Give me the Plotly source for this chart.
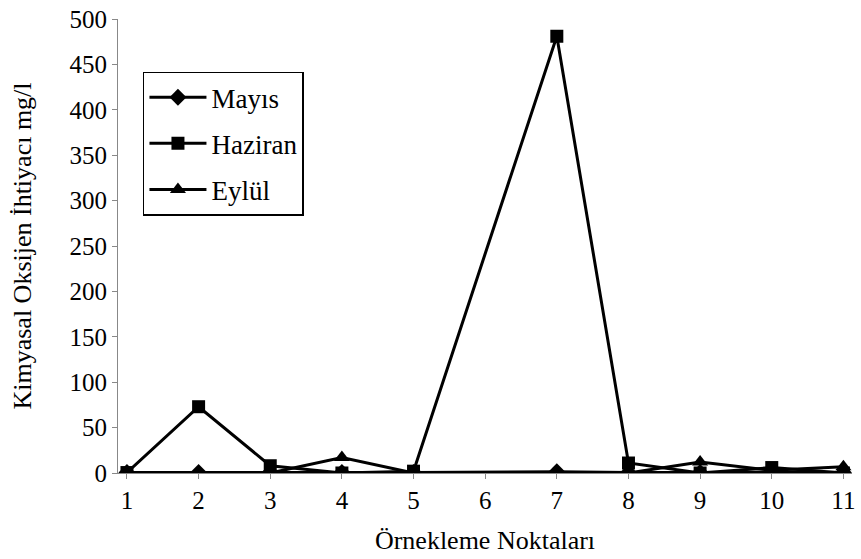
import plotly.graph_objects as go

# Sampling points and COD values (mg/l); point 6 has no measurement
points = [1, 2, 3, 4, 5, 6, 7, 8, 9, 10, 11]
mayis = [0.5, 0.5, 1, 0.5, 0.5, None, 1.5, 0.5, 0.5, 1, 0.5]
haziran = [0.5, 73, 8, 0, 2, None, 481, 11, 0, 6, 0]
eylul = [0, 0, 0, 17, 0, None, 0, 0, 12, 3, 7]

series = [
    ("Mayıs", mayis, "diamond", 13),
    ("Haziran", haziran, "square", 13),
    ("Eylül", eylul, "triangle-up", 14),
]

fig = go.Figure()
for i, (name, vals, sym, sz) in enumerate(series):
    fig.add_trace(go.Scatter(
        x=points, y=vals, name=name, mode="lines+markers",
        connectgaps=True, legendgroup=f"g{i}",
        line=dict(color="black", width=3),
        marker=dict(symbol=sym, size=sz, color="black"),
    ))

font = "'Liberation Serif', 'Times New Roman', Times, serif"
fig.update_layout(
    width=861, height=559,
    margin=dict(l=118, r=6, t=17, b=86),
    paper_bgcolor="white", plot_bgcolor="white",
    font=dict(family=font, size=25, color="black"),
    showlegend=True,
    legend=dict(
        x=0.034, y=0.884, xanchor="left", yanchor="top",
        bordercolor="black", borderwidth=1.5, bgcolor="white",
        font=dict(family=font, size=27), tracegroupgap=8,
        itemwidth=57,
    ),
    xaxis=dict(
        range=[0.875, 11.12], tickmode="array", tickvals=points,
        ticktext=[str(p) for p in points],
        showgrid=False, zeroline=False,
        showline=True, linecolor="#888888", linewidth=1,
        ticks="outside", ticklen=5, tickcolor="#888888",
        tickfont=dict(family=font, size=25),
        title=dict(text="Örnekleme Noktaları", font=dict(family=font, size=26), standoff=17),
    ),
    yaxis=dict(
        range=[0, 500], tickvals=list(range(0, 501, 50)),
        showgrid=False, zeroline=False,
        showline=True, linecolor="#888888", linewidth=1,
        ticks="outside", ticklen=5, tickcolor="#888888",
        tickfont=dict(family=font, size=25),
        title=dict(text="Kimyasal Oksijen İhtiyacı mg/l", font=dict(family=font, size=26), standoff=30),
    ),
)

fig.write_html("out.html")
